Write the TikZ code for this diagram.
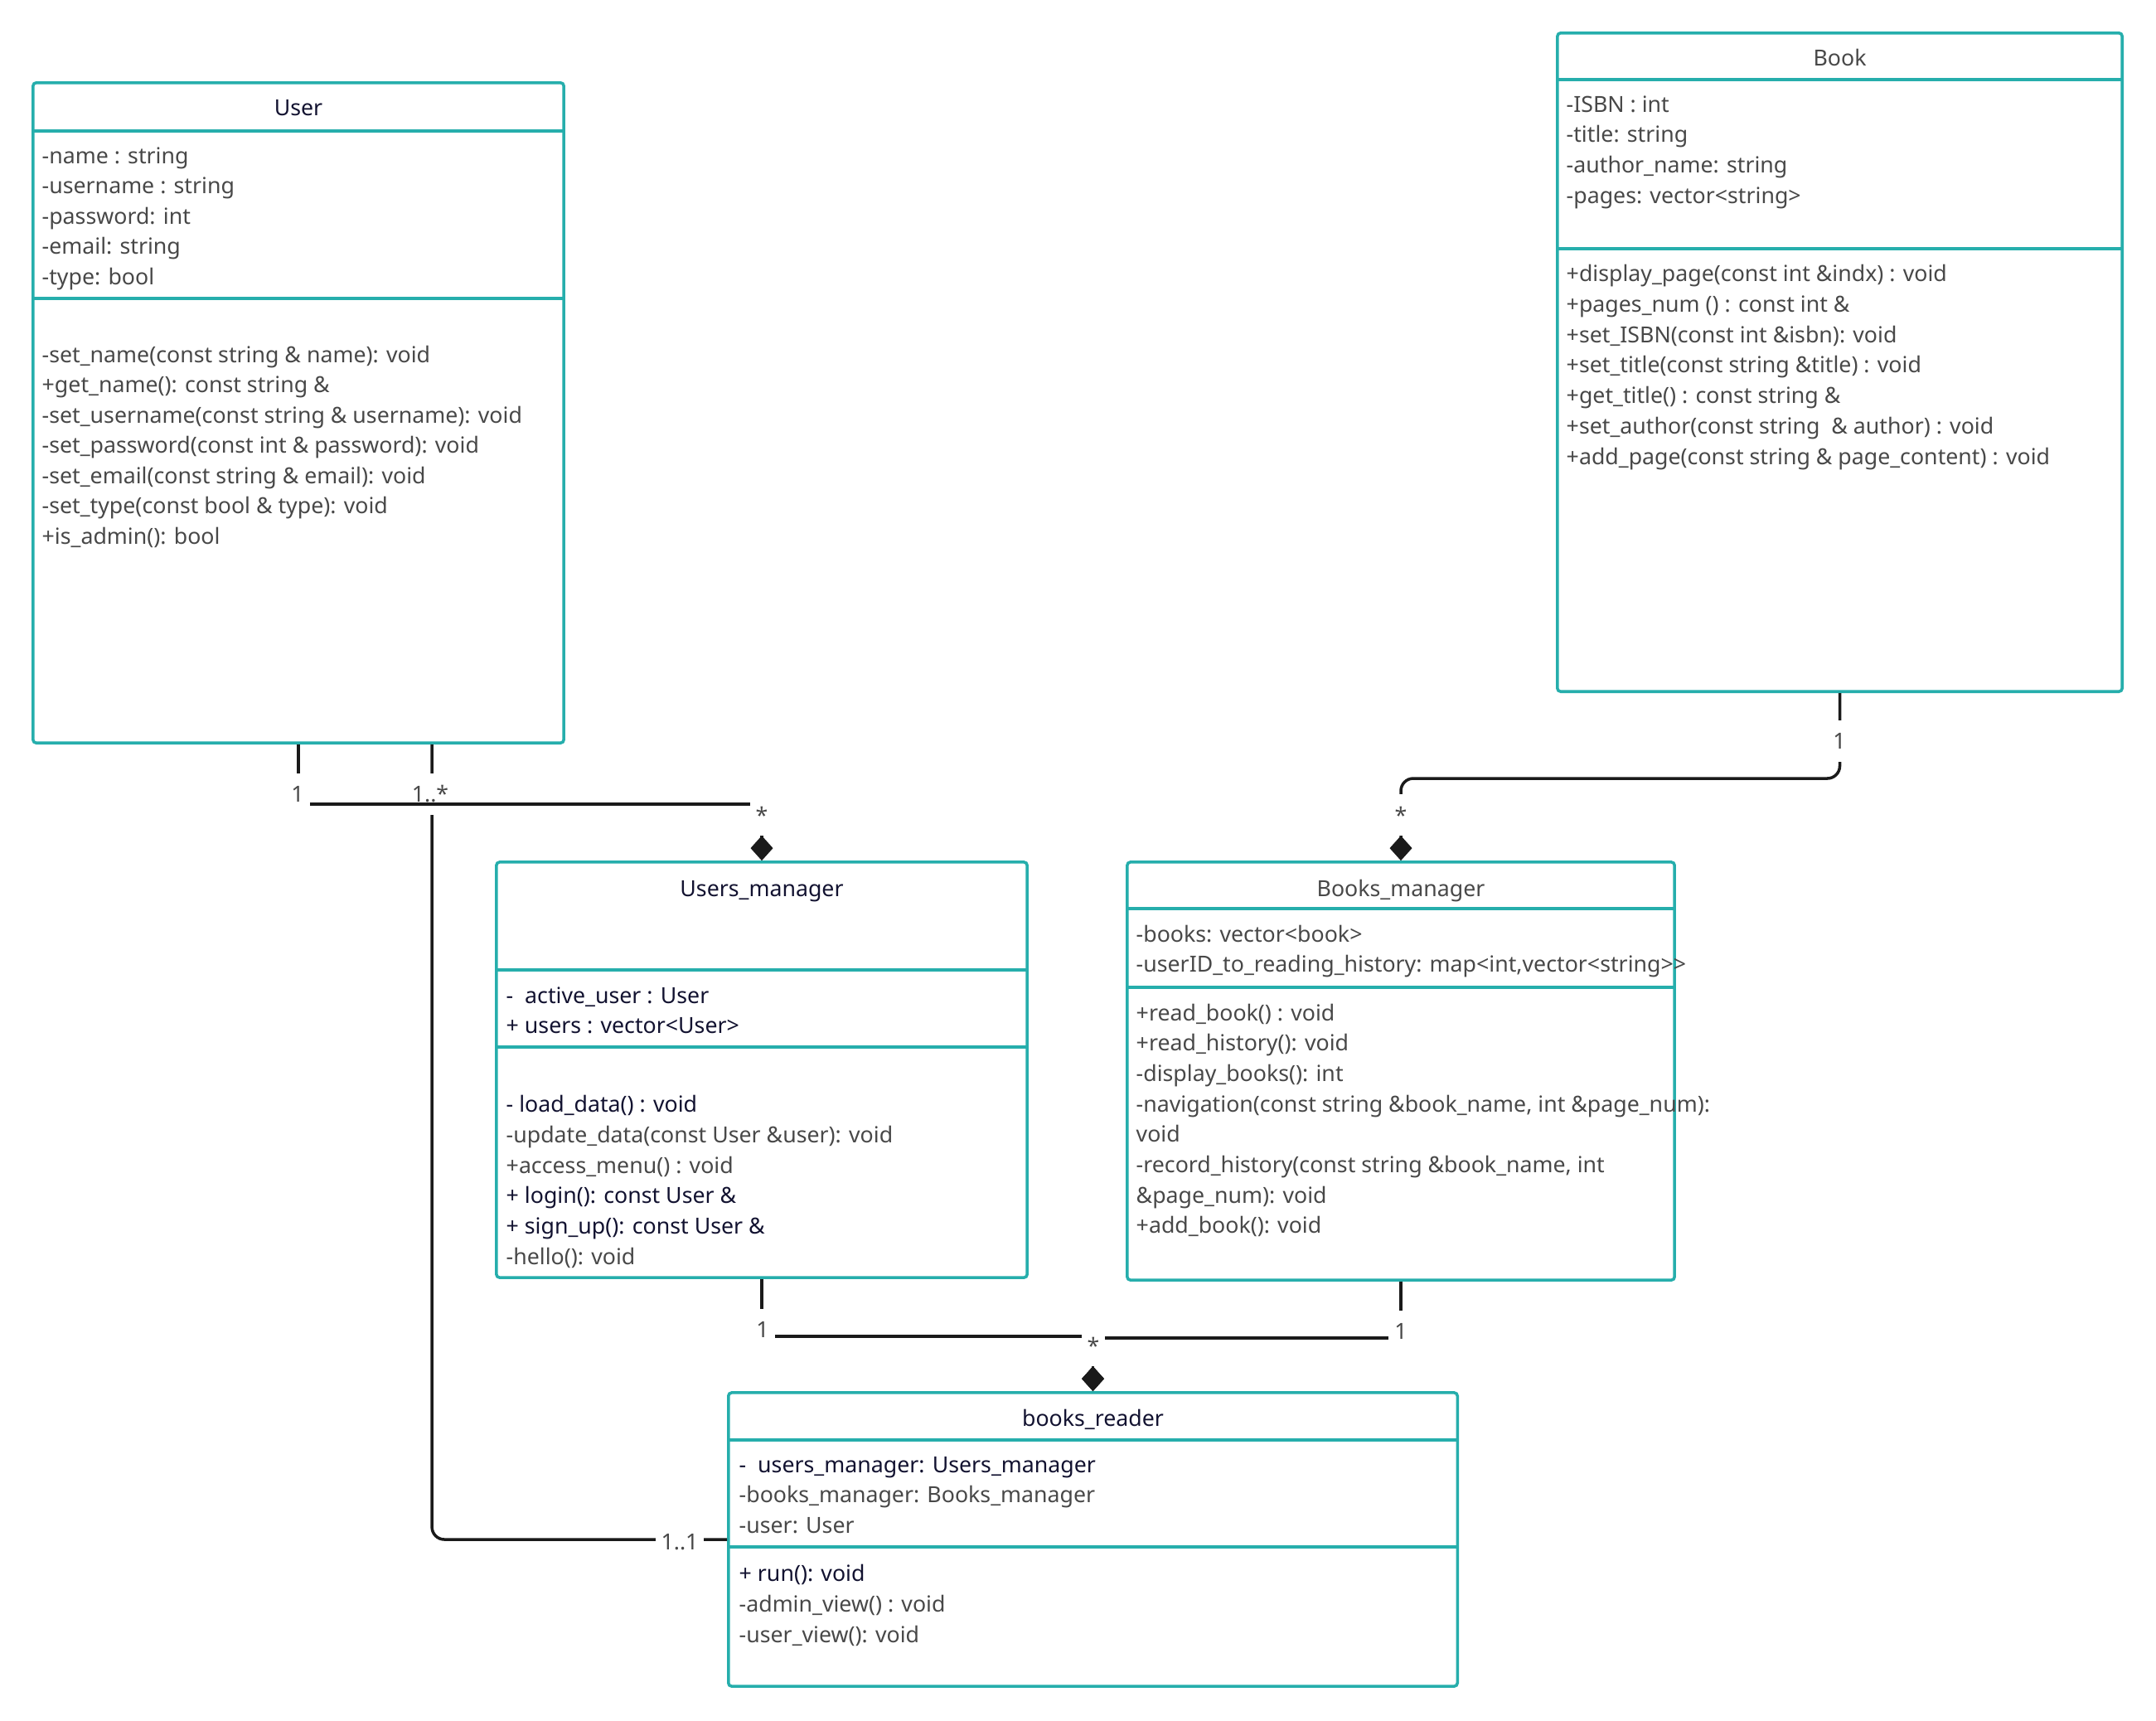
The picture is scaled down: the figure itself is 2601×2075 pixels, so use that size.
\documentclass[tikz,border=0pt]{standalone}
\usepackage{fontspec}
\setmainfont{Noto Sans}
\usetikzlibrary{arrows.meta,calc}
\definecolor{teal1}{RGB}{38,174,172}
\definecolor{navy}{RGB}{18,18,48}
\definecolor{gry}{RGB}{72,72,72}
\definecolor{ink}{RGB}{26,26,26}
\newcommand\dk{\color{navy}}
\newcommand\umlfont{\fontsize{7.6pt}{10.4pt}\selectfont}
\begin{document}
\begin{tikzpicture}[x=0.01cm,y=-0.01cm,
  box/.style={draw=teal1,line width=1pt,rounded corners=0.04cm,inner sep=0,fill=white},
  divider/.style={draw=teal1,line width=1pt},
  txt/.style={anchor=base west,inner sep=0,text=gry,font=\umlfont},
  ttl/.style={anchor=base,inner sep=0,text=gry,font=\umlfont},
  lbl/.style={fill=white,text=gry,inner xsep=0.07cm,inner ysep=0,minimum height=0.5cm,font=\umlfont},
  conn/.style={draw=ink,line width=1pt},
  comp/.style={-{Diamond[length=0.3cm,width=0.27cm]}}
]
\path[use as bounding box,fill=white] (0,0) rectangle (2601,2075);

% ---------- boxes ----------
\node[box,minimum width=6.4cm,minimum height=7.96cm] (user) at (360,498) {};
\node[box,minimum width=6.81cm,minimum height=7.94cm] (book) at (2219.5,437) {};
\node[box,minimum width=6.4cm,minimum height=5.01cm] (um) at (919,1290.5) {};
\node[box,minimum width=6.6cm,minimum height=5.04cm] (bm) at (1690,1292) {};
\node[box,minimum width=8.79cm,minimum height=3.54cm] (br) at (1318.5,1857) {};

% dividers
\draw[divider] (user.west |- 0,158) -- (user.east |- 0,158);
\draw[divider] (user.west |- 0,360) -- (user.east |- 0,360);
\draw[divider] (book.west |- 0,96) -- (book.east |- 0,96);
\draw[divider] (book.west |- 0,300) -- (book.east |- 0,300);
\draw[divider] (um.west |- 0,1170) -- (um.east |- 0,1170);
\draw[divider] (um.west |- 0,1263) -- (um.east |- 0,1263);
\draw[divider] (bm.west |- 0,1096) -- (bm.east |- 0,1096);
\draw[divider] (bm.west |- 0,1191) -- (bm.east |- 0,1191);
\draw[divider] (br.west |- 0,1737) -- (br.east |- 0,1737);
\draw[divider] (br.west |- 0,1866) -- (br.east |- 0,1866);

% ---------- titles ----------
\node[ttl,text=navy] (userT) at (360,139) {User};
\node[ttl] (bookT) at (2219.5,79) {Book};
\node[ttl,text=navy] (umT) at (919,1081) {Users\_manager};
\node[ttl] (bmT) at (1690,1081) {Books\_manager};
\node[ttl,text=navy] (brT) at (1318.5,1720) {books\_reader};

% ---------- User ----------
\foreach \t [count=\i from 0] in {-name : string, -username : string, -password: int, -email: string, -type: bool}
  \node[txt] (ua\i) at (50,197+36.5*\i) {\t};
\foreach \t [count=\i from 0] in {-set\_name(const string \& name): void, +get\_name(): const string \&, -set\_username(const string \& username): void, -set\_password(const int \& password): void, -set\_email(const string \& email): void, -set\_type(const bool \& type): void, +is\_admin(): bool}
  \node[txt] (um\i) at (50,437+36.5*\i) {\t};

% ---------- Book ----------
\foreach \t [count=\i from 0] in {-ISBN : int, -title: string, -author\_name: string, -pages: vector<string>}
  \node[txt] (ba\i) at (1889,135+36.8*\i) {\t};
\foreach \t [count=\i from 0] in {+display\_page(const int \&indx) : void, +pages\_num () : const int \&, +set\_ISBN(const int \&isbn): void, +set\_title(const string \&title) : void, +get\_title() : const string \&, +set\_author(const string\ \ \& author) : void, +add\_page(const string \& page\_content) : void}
  \node[txt] (bmm\i) at (1889,339.5+36.8*\i) {\t};

% ---------- Users_manager ----------
\foreach \t [count=\i from 0] in {{\dk -\ \ active\_user : User}, {\dk + users : vector<User>}}
  \node[txt] (uma\i) at (610,1210+36.8*\i) {\t};
\foreach \t [count=\i from 0] in {{\dk - load\_data() : void}, -update\_data(const User \&user): void, +access\_menu() : void, {\dk + login(): const User \&}, {\dk + sign\_up(): const User \&}, -hello(): void}
  \node[txt] (umm\i) at (610,1341.5+36.8*\i) {\t};

% ---------- Books_manager ----------
\foreach \t [count=\i from 0] in {-books: vector<book>, {-userID\_to\_reading\_history: map<int,vector<string>{}>}}
  \node[txt] (bma\i) at (1370,1136+36.7*\i) {\t};
\foreach \t [count=\i from 0] in {+read\_book() : void, +read\_history(): void, -display\_books(): int, {-navigation(const string \&book\_name, int \&page\_num):}, void, {-record\_history(const string \&book\_name, int}, \&page\_num): void, +add\_book(): void}
  \node[txt] (bmx\i) at (1370,1231+36.7*\i) {\t};

% ---------- books_reader ----------
\foreach \t [count=\i from 0] in {{\dk -\ \ users\_manager: Users\_manager}, -books\_manager: Books\_manager, -user: User}
  \node[txt] (bra\i) at (891,1776+36.5*\i) {\t};
\foreach \t [count=\i from 0] in {{\dk + run(): void}, -admin\_view() : void, -user\_view(): void}
  \node[txt] (brm\i) at (891,1907+37*\i) {\t};

% ---------- connectors ----------
% User -> books_reader
\draw[conn,rounded corners=0.15cm] ([xshift=1.61cm]user.south) |- (br.west);
\node[lbl] (c2a) at (519,958) {1..*};
\node[lbl] (c2b) at (820,1860) {1..1};

% User -> Users_manager (composition)
\draw[conn,comp] (user.south) -- ++(0,72) -| (um.north);
\node[lbl] (c1a) at (359,958) {1};
\node[lbl] (c1b) at (919,983) {*};

% Book -> Books_manager (composition)
\draw[conn,comp,rounded corners=0.15cm] (book.south) -- ++(0,103) -| (bm.north);
\node[lbl] (c3a) at (2219,894) {1};
\node[lbl] (c3b) at (1690,983) {*};

% Users_manager / Books_manager -> books_reader (composition)
\draw[conn,comp] (um.south) -- ++(0,69) -| (br.north);
\draw[conn,comp] (bm.south) -- ++(0,68) -| (br.north);
\node[lbl] (c4a) at (920,1604) {1};
\node[lbl] (c5a) at (1690,1606) {1};
\node[lbl] (c4b) at (1319,1623) {*};
\end{tikzpicture}
\end{document}
